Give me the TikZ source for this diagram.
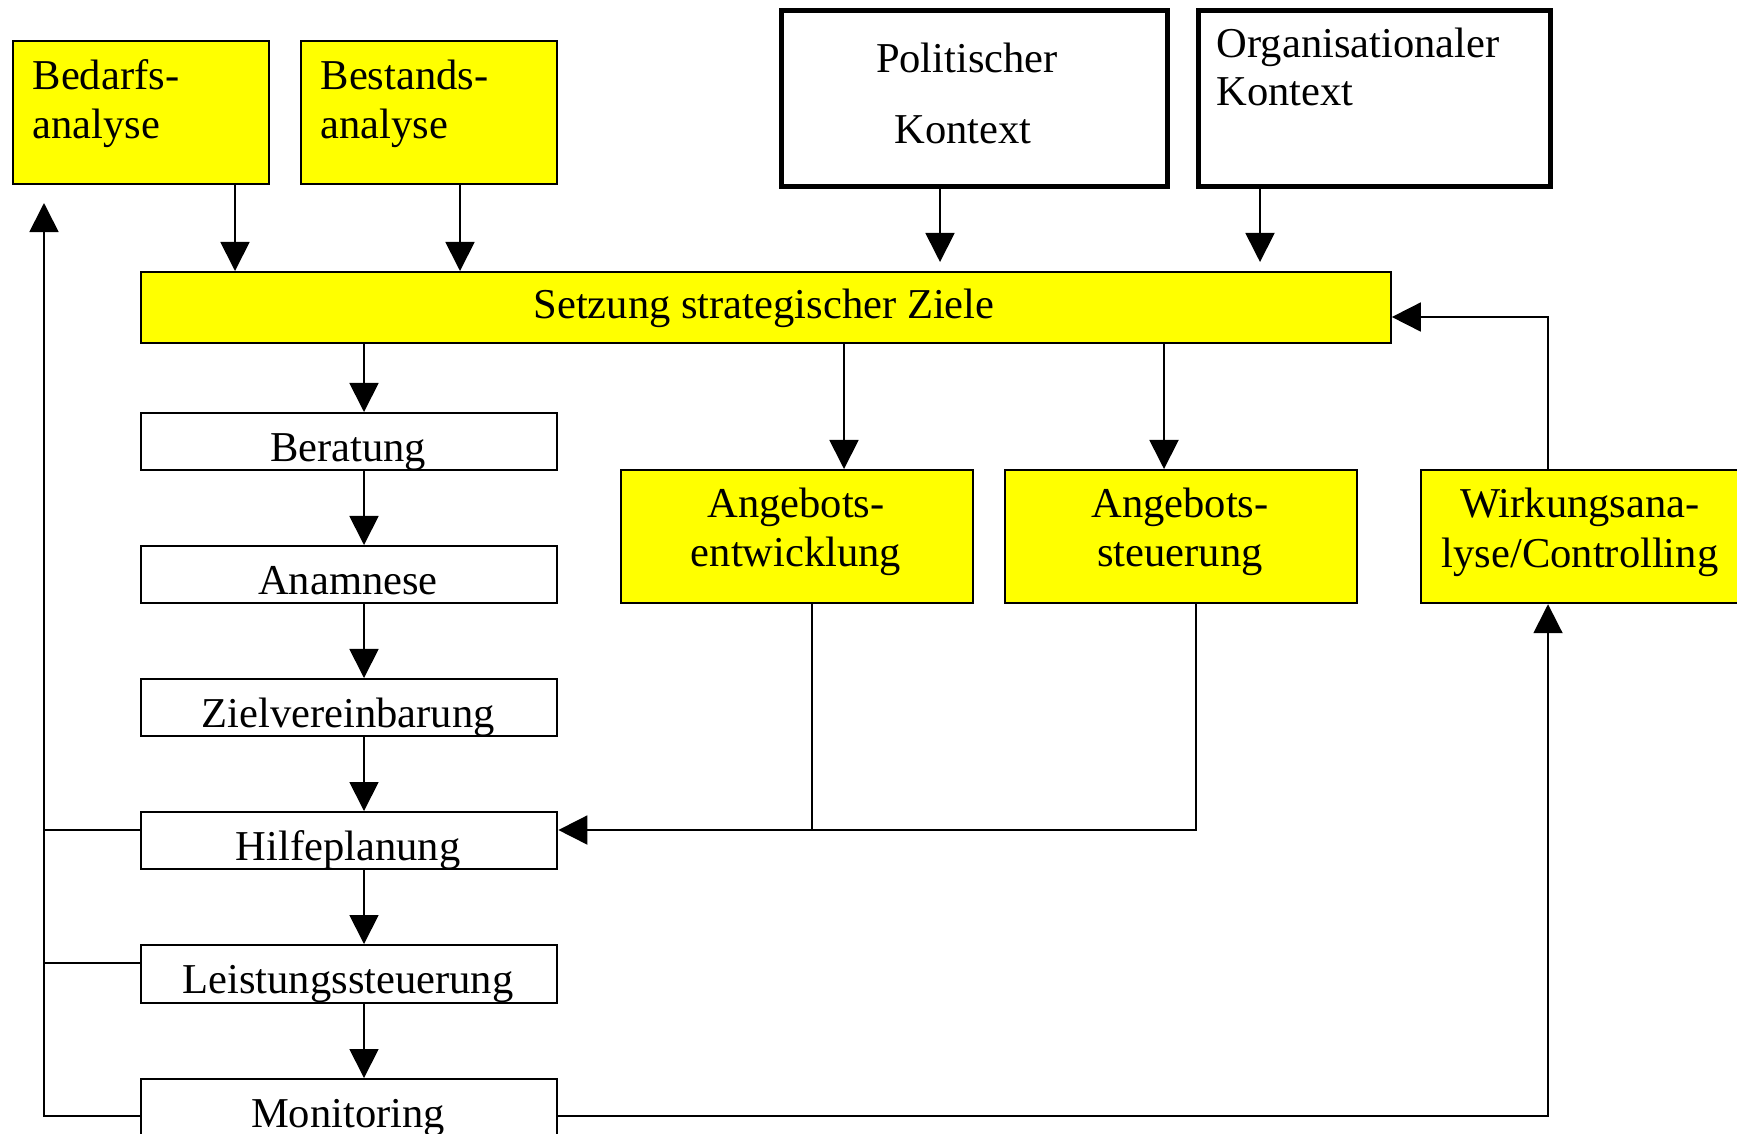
\documentclass[tikz,border=0pt]{standalone}
\usepackage{fontspec}
\setmainfont{Liberation Serif}
\usetikzlibrary{arrows.meta}
\definecolor{boxyellow}{RGB}{255,255,0}
\tikzset{
  box/.style={draw=black, line width=0.6pt, inner sep=0pt, anchor=north west},
  ybox/.style={box, fill=boxyellow},
  wbox/.style={box, fill=white},
  kbox/.style={draw=black, line width=1.4pt, fill=white, inner sep=0pt, anchor=north west},
  txt/.style={inner sep=0pt, font=\fontsize{12.1pt}{14pt}\selectfont},
  conn/.style={draw=black, line width=0.5pt},
  arr/.style={conn, -{Triangle[length=0.29cm, width=0.29cm]}}
}
\begin{document}
\begin{tikzpicture}[x=0.01cm, y=-0.01cm]
\useasboundingbox (0,0) rectangle (1737,1133);
% boxes
\node[ybox, minimum width=2.565cm, minimum height=1.43cm] (bed) at (11.5,40) {};
\node[ybox, minimum width=2.56cm, minimum height=1.43cm] (bes) at (300,40) {};
\node[kbox, minimum width=3.86cm, minimum height=1.76cm] (pol) at (779,8) {};
\node[kbox, minimum width=3.52cm, minimum height=1.76cm] (org) at (1196,8) {};
\node[ybox, minimum width=12.49cm, minimum height=0.71cm] (set) at (140,271) {};
\node[wbox, minimum width=4.16cm, minimum height=0.57cm] (ber) at (140,412) {};
\node[wbox, minimum width=4.16cm, minimum height=0.57cm] (ana) at (140,545) {};
\node[wbox, minimum width=4.16cm, minimum height=0.57cm] (ziel) at (140,678) {};
\node[wbox, minimum width=4.16cm, minimum height=0.57cm] (hilf) at (140,811) {};
\node[wbox, minimum width=4.16cm, minimum height=0.58cm] (leis) at (140,944) {};
\node[wbox, minimum width=4.16cm, minimum height=0.60cm] (mon) at (140,1078) {};
\node[ybox, minimum width=3.52cm, minimum height=1.33cm] (aent) at (620,469) {};
\node[ybox, minimum width=3.52cm, minimum height=1.33cm] (aste) at (1004,469) {};
\node[ybox, minimum width=3.24cm, minimum height=1.33cm] (wirk) at (1420,469) {};
% texts
\node[txt, anchor=base west] (tbed1) at (32,89) {Bedarfs-};
\node[txt, anchor=base west] (tbed2) at (32,138) {analyse};
\node[txt, anchor=base west] (tbes1) at (320,89) {Bestands-};
\node[txt, anchor=base west] (tbes2) at (320,138) {analyse};
\node[txt, anchor=base] (tpol1) at (967,72) {Politischer};
\node[txt, anchor=base] (tpol2) at (963,143) {Kontext};
\node[txt, anchor=base west] (torg1) at (1216,57) {Organisationaler};
\node[txt, anchor=base west] (torg2) at (1216,105) {Kontext};
\node[txt, anchor=base] (tset) at (764,318) {Setzung strategischer Ziele};
\node[txt, anchor=base] (tber) at (348,461) {Beratung};
\node[txt, anchor=base] (tana) at (348,594) {Anamnese};
\node[txt, anchor=base] (tziel) at (348,727) {Zielvereinbarung};
\node[txt, anchor=base] (thilf) at (348,860) {Hilfeplanung};
\node[txt, anchor=base] (tleis) at (348,993) {Leistungssteuerung};
\node[txt, anchor=base] (tmon) at (348,1127) {Monitoring};
\node[txt, anchor=base] (taent1) at (796,517) {Angebots-};
\node[txt, anchor=base] (taent2) at (796,566) {entwicklung};
\node[txt, anchor=base] (taste1) at (1180,517) {Angebots-};
\node[txt, anchor=base] (taste2) at (1180,566) {steuerung};
\node[txt, anchor=base] (twirk1) at (1580,517) {Wirkungsana-};
\node[txt, anchor=base] (twirk2) at (1580,567) {lyse/Controlling};
% helper coordinates
\coordinate (xa) at (235,0);
\coordinate (xb) at (460,0);
\coordinate (xc) at (940,0);
\coordinate (xd) at (1260,0);
\coordinate (xm) at (364,0);
\coordinate (xe) at (844,0);
\coordinate (xf) at (1164,0);
\coordinate (xg) at (812,0);
\coordinate (xh) at (1196,0);
\coordinate (xw) at (1548,0);
\coordinate (xl) at (44,0);
\coordinate (yh) at (0,830);
\coordinate (yl) at (0,963);
\coordinate (ym) at (0,1116);
\coordinate (ys) at (0,317);
\coordinate (ytop) at (0,203);
% top arrows into Setzung
\draw[arr] (bed.south -| xa) -- (set.north -| xa);
\draw[arr] (bes.south -| xb) -- (set.north -| xb);
\draw[arr, shorten >=0.09cm] (pol.south -| xc) -- (set.north -| xc);
\draw[arr, shorten >=0.09cm] (org.south -| xd) -- (set.north -| xd);
% Setzung downwards
\draw[arr] (set.south -| xm) -- (ber.north -| xm);
\draw[arr] (set.south -| xe) -- (aent.north -| xe);
\draw[arr] (set.south -| xf) -- (aste.north -| xf);
% left chain
\draw[arr] (ber.south -| xm) -- (ana.north -| xm);
\draw[arr] (ana.south -| xm) -- (ziel.north -| xm);
\draw[arr] (ziel.south -| xm) -- (hilf.north -| xm);
\draw[arr] (hilf.south -| xm) -- (leis.north -| xm);
\draw[arr] (leis.south -| xm) -- (mon.north -| xm);
% Angebots boxes into Hilfeplanung
\draw[conn] (aent.south -| xg) -- (xg |- yh);
\draw[arr] (aste.south -| xh) |- (hilf.east |- yh);
% Wirkung feedback to Setzung
\draw[arr] (wirk.north -| xw) |- (set.east |- ys);
% Monitoring to Wirkung
\draw[arr] (mon.east |- ym) -| (wirk.south -| xw);
% left feedback line
\draw[arr] (mon.west |- ym) -| (xl |- ytop);
\draw[conn] (hilf.west |- yh) -- (xl |- yh);
\draw[conn] (leis.west |- yl) -- (xl |- yl);
\end{tikzpicture}
\end{document}
